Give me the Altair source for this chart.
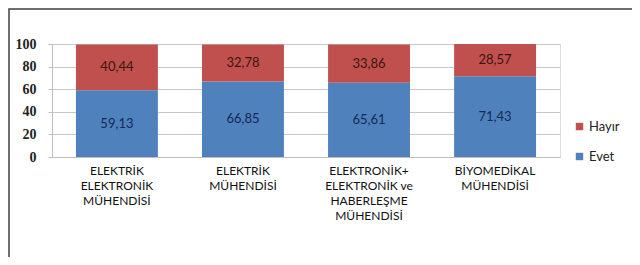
import altair as alt
import pandas as pd

categories = [
    "ELEKTRİK\nELEKTRONİK\nMÜHENDİSİ",
    "ELEKTRİK\nMÜHENDİSİ",
    "ELEKTRONİK+\nELEKTRONİK ve\nHABERLEŞME\nMÜHENDİSİ",
    "BİYOMEDİKAL\nMÜHENDİSİ",
]
evet = [59.13, 66.85, 65.61, 71.43]
hayir = [40.44, 32.78, 33.86, 28.57]
series = ["Hayır", "Evet"]
colors = ["#C0504D", "#4F81BD"]
text_colors = ["#3b1512", "#14285a"]
y_ticks = [0, 20, 40, 60, 80, 100]

rows = []
for c, e, h in zip(categories, evet, hayir):
    rows.append({"cat": c, "series": "Evet", "value": e, "order": 0})
    rows.append({"cat": c, "series": "Hayır", "value": h, "order": 1})
df = pd.DataFrame(rows)

x_axis = alt.Axis(labelAngle=0, labelExpr="split(datum.label, '\\n')",
                  labelFont="Lato", labelFontSize=12, labelColor="#111",
                  labelLineHeight=15, labelPadding=8, ticks=False,
                  domainColor="#bfbfbf", labelBaseline="top")
y_axis = alt.Axis(values=y_ticks, labelFont="Liberation Serif",
                  labelFontSize=14, labelFontWeight="bold", labelColor="#222",
                  labelOverlap=False, labelFlush=False,
                  labelPadding=12, tickSize=4, tickColor="#bfbfbf",
                  domainColor="#bfbfbf", gridColor="#c8c8c8")
x_scale = alt.Scale(paddingInner=0.35, paddingOuter=0.19)
y_scale = alt.Scale(domain=[0, 100], nice=False)

bars = alt.Chart(df).mark_bar().encode(
    x=alt.X("cat:N", sort=categories, title=None, scale=x_scale, axis=x_axis),
    y=alt.Y("value:Q", stack="zero", title=None, scale=y_scale, axis=y_axis),
    color=alt.Color("series:N", scale=alt.Scale(domain=series, range=colors),
                    legend=alt.Legend(title=None, orient="none", legendX=521, legendY=76,
                                      symbolType="square", symbolSize=55,
                                      symbolStrokeWidth=0, labelFont="Lato",
                                      labelFontSize=13, labelColor="#222",
                                      rowPadding=16, labelOffset=3)),
    order=alt.Order("order:Q"),
)

labels = alt.Chart(df).mark_text(font="Lato", fontSize=13).transform_calculate(
    lbl="replace(format(datum.value, '.2f'), '.', ',')"
).encode(
    x=alt.X("cat:N", sort=categories, title=None, scale=x_scale, axis=x_axis),
    y=alt.Y("value:Q", stack="zero", bandPosition=0.5, title=None, scale=y_scale, axis=y_axis),
    text="lbl:N",
    color=alt.Color("series:N", scale=alt.Scale(domain=series, range=text_colors), legend=None),
    order=alt.Order("order:Q"),
)

frame = alt.Chart(pd.DataFrame({"a": [0]})).mark_rect(
    fill=None, stroke="#404040", strokeWidth=1.5
).encode(x=alt.value(-43), x2=alt.value(800), y=alt.value(-35), y2=alt.value(400))

chart = alt.layer(bars, labels, frame).resolve_scale(color="independent").properties(
    width=508, height=113,
    autosize=alt.AutoSizeParams(type="none"),
    padding={"left": 44, "top": 36, "right": 72, "bottom": 100},
).configure_view(stroke=None).configure_axisY(labelOverlap=False).configure(background="white")

chart.save("out.html", embed_options={"renderer": "svg", "actions": False})
